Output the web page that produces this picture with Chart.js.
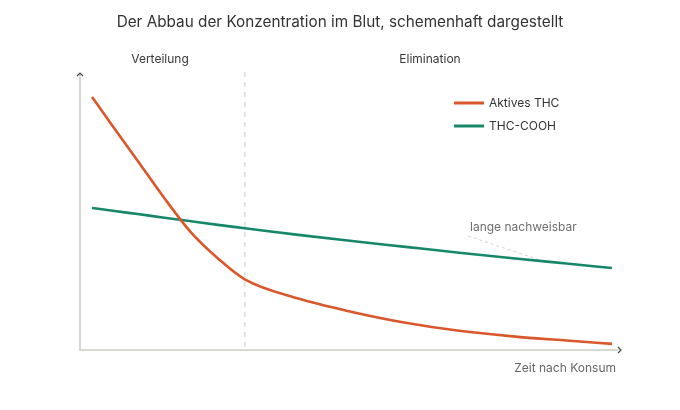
<!DOCTYPE html>
<html>
<head>
<meta charset="utf-8">
<script src="https://cdn.jsdelivr.net/npm/chart.js@4.4.1/dist/chart.umd.min.js"></script>
<style>
    html, body { margin: 0; padding: 0; background: #ffffff; }
    #wrap { width: 680px; height: 410px; }
</style>
</head>
<body>
<div id="wrap"><canvas id="grafico" width="680" height="410"></canvas></div>
<script>
const zeit = [1.5, 5, 10, 15, 20, 25, 30, 40, 50, 60, 70, 80, 90, 98.5];
const aktivesThc = [91.0, 81.5, 68.1, 54.6, 42.2, 32.9, 25.4, 18.5, 13.7, 9.8, 6.9, 4.9, 3.4, 2.2];
const thcCooh = [51.1, 50.2, 48.9, 47.6, 46.3, 45.0, 43.8, 41.4, 39.2, 37.1, 35.0, 33.0, 31.1, 29.5];
const phasenGrenze = 30;
const serienNamen = ['Aktives THC', 'THC-COOH'];
const phasenNamen = ['Verteilung', 'Elimination'];
const titel = 'Der Abbau der Konzentration im Blut, schemenhaft dargestellt';

const orange = '#d9572b';
const gruen = '#17876a';
const fonte = 'Inter, "Noto Sans", sans-serif';

// Achsen, Phasen, Legende und Beschriftungen von Hand zeichnen
const dekoPlugin = {
    id: 'deko',
    beforeDatasetsDraw(chart) {
        const { ctx, chartArea } = chart;
        const x = chart.scales.x;
        const y = chart.scales.y;
        const ax = chartArea.left - 4;
        const ay = y.getPixelForValue(0);

        ctx.save();
        // Titel
        ctx.fillStyle = '#333';
        ctx.font = '15.3px ' + fonte;
        ctx.textAlign = 'center';
        ctx.textBaseline = 'middle';
        ctx.fillText(titel, 340, 22);

        // Phasengrenze
        const gx = x.getPixelForValue(phasenGrenze);
        ctx.strokeStyle = '#e2e2df';
        ctx.lineWidth = 2;
        ctx.setLineDash([5, 5]);
        ctx.beginPath();
        ctx.moveTo(gx, chartArea.top);
        ctx.lineTo(gx, ay);
        ctx.stroke();
        ctx.setLineDash([]);

        // Achsen
        ctx.strokeStyle = '#d8d8d3';
        ctx.lineWidth = 2;
        ctx.beginPath();
        ctx.moveTo(ax, chartArea.top + 2);
        ctx.lineTo(ax, ay);
        ctx.lineTo(chartArea.right - 2, ay);
        ctx.stroke();

        // Pfeilspitzen
        ctx.strokeStyle = '#444';
        ctx.lineWidth = 1.2;
        ctx.beginPath();
        ctx.moveTo(ax - 3, chartArea.top + 4);
        ctx.lineTo(ax, chartArea.top + 1);
        ctx.lineTo(ax + 3, chartArea.top + 4);
        ctx.moveTo(chartArea.right - 2, ay - 3);
        ctx.lineTo(chartArea.right + 1, ay);
        ctx.lineTo(chartArea.right - 2, ay + 3);
        ctx.stroke();

        // Phasennamen
        ctx.fillStyle = '#3a3a3a';
        ctx.font = '12px ' + fonte;
        ctx.fillText(phasenNamen[0], 160, 59);
        ctx.fillText(phasenNamen[1], 430, 59);

        // Hinweis mit gestrichelter Linie
        ctx.strokeStyle = '#d9d3c9';
        ctx.lineWidth = 1;
        ctx.setLineDash([3, 3]);
        ctx.beginPath();
        ctx.moveTo(468, 236);
        ctx.lineTo(540, 260);
        ctx.stroke();
        ctx.setLineDash([]);
        ctx.fillStyle = '#6e6e6e';
        ctx.textAlign = 'left';
        ctx.fillText('lange nachweisbar', 470, 227);

        // x-Achsentitel
        ctx.fillStyle = '#666';
        ctx.textAlign = 'right';
        ctx.fillText('Zeit nach Konsum', 616, 368);

        // Legende
        const farben = [orange, gruen];
        ctx.lineWidth = 3;
        ctx.textAlign = 'left';
        for (let i = 0; i < serienNamen.length; i++) {
            const ly = 103 + i * 23;
            ctx.strokeStyle = farben[i];
            ctx.beginPath();
            ctx.moveTo(454, ly);
            ctx.lineTo(484, ly);
            ctx.stroke();
            ctx.fillStyle = '#333';
            ctx.fillText(serienNamen[i], 489, ly);
        }
        ctx.restore();
    }
};

const ctx = document.getElementById('grafico').getContext('2d');

const grafico = new Chart(ctx, {
    type: 'line',
    data: {
        datasets: [
            {
                label: serienNamen[0],
                data: zeit.map((t, i) => ({ x: t, y: aktivesThc[i] })),
                borderColor: orange,
                borderWidth: 2.6,
                pointRadius: 0,
                cubicInterpolationMode: 'monotone'
            },
            {
                label: serienNamen[1],
                data: zeit.map((t, i) => ({ x: t, y: thcCooh[i] })),
                borderColor: gruen,
                borderWidth: 2.6,
                pointRadius: 0,
                cubicInterpolationMode: 'monotone'
            }
        ]
    },
    options: {
        responsive: false,
        animation: false,
        layout: {
            padding: { left: 84, right: 60, top: 72, bottom: 60 }
        },
        plugins: {
            legend: { display: false },
            tooltip: { enabled: false },
            title: { display: false }
        },
        scales: {
            x: { type: 'linear', min: 0, max: 100, display: false },
            y: { type: 'linear', min: 0, max: 100, display: false }
        }
    },
    plugins: [dekoPlugin]
});
</script>
</body>
</html>
